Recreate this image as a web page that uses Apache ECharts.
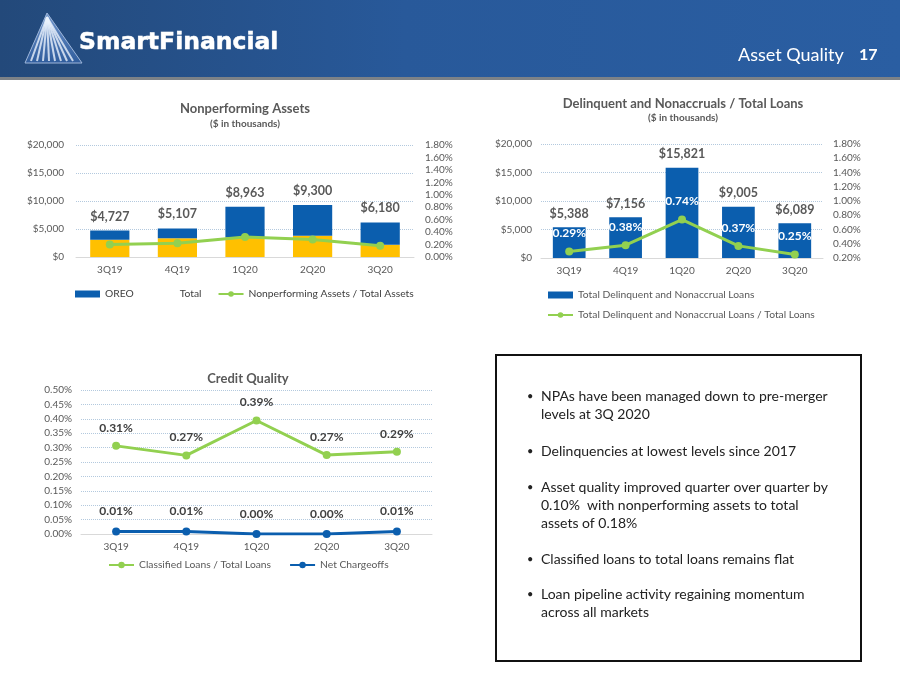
<!DOCTYPE html>
<html><head><meta charset="utf-8">
<script src="https://cdn.jsdelivr.net/npm/echarts@6.0.0/dist/echarts.min.js"></script>
<style>html,body{margin:0;padding:0;background:#fff}#c{width:900px;height:675px}</style>
</head><body><div id="c"></div><script>
const quarters = ['3Q19', '4Q19', '1Q20', '2Q20', '3Q20'];
// Nonperforming assets ($ thousands)
const npaNonaccrual = [3100, 3350, 3500, 3800, 2200];
const npaOreo = [1627, 1757, 5463, 5500, 3980];
const npaTotal = [4727, 5107, 8963, 9300, 6180];
const npaRatio = [0.20, 0.22, 0.32, 0.28, 0.18];
// Delinquent and nonaccrual loans
const delinqLoans = [5388, 7156, 15821, 9005, 6089];
const delinqRatio = [0.29, 0.38, 0.74, 0.37, 0.25];
// Credit quality (%)
const classifiedRatio = [0.306, 0.273, 0.394, 0.274, 0.286];
const netChargeoffs = [0.009, 0.009, 0.000, 0.000, 0.009];
const bullets = [
  ['NPAs have been managed down to pre-merger', 'levels at 3Q 2020'],
  ['Delinquencies at lowest levels since 2017'],
  ['Asset quality improved quarter over quarter by', '0.10%  with nonperforming assets to total', 'assets of 0.18%'],
  ['Classified loans to total loans remains flat'],
  ['Loan pipeline activity regaining momentum', 'across all markets']
];

const FONT = 'Lato';
const BLUE = '#0b5eae', GREEN = '#92d050', YELLOW = '#ffc000', TXT = '#595959', LBL = '#404040';
const dollar = v => '$' + Math.round(v).toLocaleString('en-US');
const pct = v => (+v).toFixed(2) + '%';
const grid = (c) => ({color: c || '#b3c9de', type: 'dotted', width: 1});

function xAx(gi) {
  return {type: 'category', gridIndex: gi, data: quarters,
    axisLine: {lineStyle: {color: '#d9d9d9', width: 1}}, axisTick: {show: false},
    axisLabel: {color: TXT, fontSize: 10, fontFamily: FONT, margin: 8}};
}
function yLeft(gi, max, interval, fmt, margin) {
  return {type: 'value', gridIndex: gi, min: 0, max: max, interval: interval, position: 'left',
    axisLine: {show: false}, axisTick: {show: false},
    axisLabel: {color: TXT, fontSize: 10, fontFamily: FONT, formatter: fmt, margin: margin},
    splitLine: {show: true, lineStyle: grid()}};
}
function yRight(gi, min, max, interval, margin) {
  return {type: 'value', gridIndex: gi, min: min, max: max, interval: interval, position: 'right',
    axisLine: {show: false}, axisTick: {show: false},
    axisLabel: {color: TXT, fontSize: 10, fontFamily: FONT, formatter: pct, margin: margin},
    splitLine: {show: false}};
}

const graphics = [
  {type: 'rect', shape: {x: 0, y: 0, width: 900, height: 77},
    style: {fill: new echarts.graphic.LinearGradient(0, 0, 1, 0, [
      {offset: 0, color: '#23497a'}, {offset: 0.45, color: '#28599a'}, {offset: 1, color: '#2a5ea2'}])}},
  {type: 'rect', shape: {x: 0, y: 77, width: 900, height: 3}, style: {fill: '#7d8287'}},
  {type: 'polygon', shape: {points: [[47, 13], [25, 63], [82, 63]]},
    style: {fill: new echarts.graphic.LinearGradient(0, 0, 0, 1, [
      {offset: 0, color: '#6f95cc'}, {offset: 1, color: '#2f5c9c'}]), stroke: '#9fb7da', lineWidth: 1}},
  {type: 'text', style: {text: 'SmartFinancial', x: 79, y: 43, fill: '#ffffff', stroke: '#ffffff', lineWidth: 0.5,
    fontFamily: '"DejaVu Sans", sans-serif', fontWeight: 'bold', fontSize: 23.5, verticalAlign: 'middle'}},
  {type: 'text', style: {text: 'Asset Quality', x: 738, y: 55, fill: '#ffffff',
    fontFamily: 'Lato, sans-serif', fontSize: 18, verticalAlign: 'middle'}},
  {type: 'text', style: {text: '17', x: 859, y: 55, fill: '#ffffff',
    fontFamily: 'Lato, sans-serif', fontWeight: 'bold', fontSize: 16, verticalAlign: 'middle'}},
  {type: 'rect', shape: {x: 496, y: 355, width: 365, height: 306},
    style: {fill: '#ffffff', stroke: '#111111', lineWidth: 2}}
];
[31, 37, 43, 49, 55, 61, 67, 73].forEach(bx => {
  graphics.push({type: 'line', shape: {x1: 47, y1: 17, x2: bx, y2: 61},
    style: {stroke: 'rgba(235,242,252,0.8)', lineWidth: 2}});
});
const bulletTops = [396, 451, 487, 559, 594];
bullets.forEach((lines, i) => {
  graphics.push({type: 'text', style: {text: '•', x: 527, y: bulletTops[i], fill: '#222',
    fontFamily: 'Lato, sans-serif', fontSize: 11, verticalAlign: 'middle'}});
  lines.forEach((ln, j) => {
    graphics.push({type: 'text', style: {text: ln, x: 541, y: bulletTops[i] + j * 18, fill: '#222',
      fontFamily: 'Lato, sans-serif', fontSize: 14, verticalAlign: 'middle'}});
  });
});

const option = {
  backgroundColor: '#ffffff',
  animation: false,
  textStyle: {fontFamily: FONT},
  title: [
    {text: 'Nonperforming Assets', subtext: '($ in thousands)', left: 240, top: 97, textAlign: 'center', itemGap: 4,
      textStyle: {fontSize: 13, fontWeight: 'bold', color: TXT, fontFamily: FONT},
      subtextStyle: {fontSize: 10, fontWeight: 'bold', color: TXT, fontFamily: FONT}},
    {text: 'Delinquent and Nonaccruals / Total Loans', subtext: '($ in thousands)', left: 678, top: 92, textAlign: 'center', itemGap: 3,
      textStyle: {fontSize: 13, fontWeight: 'bold', color: TXT, fontFamily: FONT},
      subtextStyle: {fontSize: 10, fontWeight: 'bold', color: TXT, fontFamily: FONT}},
    {text: 'Credit Quality', left: 243, top: 367, textAlign: 'center',
      textStyle: {fontSize: 13, fontWeight: 'bold', color: TXT, fontFamily: FONT}}
  ],
  legend: [
    {left: 75, top: 289, padding: 0, itemWidth: 25, itemHeight: 7, itemGap: 16,
      textStyle: {color: LBL, fontSize: 10.3, fontFamily: FONT},
      data: [{name: 'OREO', icon: 'rect'}, {name: 'Total', icon: 'none'}, {name: 'Nonperforming Assets / Total Assets'}]},
    {left: 547, top: 290, padding: 0, orient: 'vertical', itemWidth: 25, itemHeight: 7, itemGap: 10,
      textStyle: {color: TXT, fontSize: 10.3, fontFamily: FONT},
      data: [{name: 'Total Delinquent and Nonaccrual Loans', icon: 'rect'}, {name: 'Total Delinquent and Nonaccrual Loans / Total Loans'}]},
    {left: 108, top: 560, padding: 0, itemWidth: 25, itemHeight: 8, itemGap: 18,
      textStyle: {color: TXT, fontSize: 10.3, fontFamily: FONT},
      data: ['Classified Loans / Total Loans', 'Net Chargeoffs']}
  ],
  grid: [
    {left: 76, top: 145, width: 338, height: 112},
    {left: 541, top: 144, width: 282, height: 114},
    {left: 81, top: 390, width: 351, height: 144}
  ],
  xAxis: [xAx(0), xAx(1), xAx(2)],
  yAxis: [
    yLeft(0, 20000, 5000, dollar, 12),
    yRight(0, 0, 1.8, 0.2, 11),
    yLeft(1, 20000, 5000, dollar, 9),
    yRight(1, 0.2, 1.8, 0.2, 10),
    yLeft(2, 0.5, 0.05, pct, 9)
  ],
  series: [
    {name: 'Nonperforming Loans', type: 'bar', xAxisIndex: 0, yAxisIndex: 0, stack: 'npa', barWidth: '58%',
      data: npaNonaccrual, itemStyle: {color: YELLOW}},
    {name: 'OREO', type: 'bar', xAxisIndex: 0, yAxisIndex: 0, stack: 'npa', barWidth: '58%',
      data: npaOreo, itemStyle: {color: BLUE}},
    {name: 'Total', type: 'line', xAxisIndex: 0, yAxisIndex: 0, data: npaTotal, symbol: 'circle', symbolSize: 1,
      showSymbol: true, lineStyle: {opacity: 0}, itemStyle: {color: 'rgba(0,0,0,0)'},
      label: {show: true, position: 'top', distance: 7, formatter: p => dollar(p.value),
        color: TXT, fontSize: 12.5, fontWeight: 'bold', fontFamily: FONT}, z: 5},
    {name: 'Nonperforming Assets / Total Assets', type: 'line', xAxisIndex: 0, yAxisIndex: 1, data: npaRatio,
      symbol: 'circle', symbolSize: 8, lineStyle: {color: GREEN, width: 3}, itemStyle: {color: GREEN}, z: 4},

    {name: 'Total Delinquent and Nonaccrual Loans', type: 'bar', xAxisIndex: 1, yAxisIndex: 2, barWidth: '58%',
      data: delinqLoans, itemStyle: {color: BLUE},
      label: {show: true, position: 'top', distance: 7, formatter: p => dollar(p.value),
        color: TXT, fontSize: 12.5, fontWeight: 'bold', fontFamily: FONT}},
    {name: 'Total Delinquent and Nonaccrual Loans / Total Loans', type: 'line', xAxisIndex: 1, yAxisIndex: 3,
      data: delinqRatio, symbol: 'circle', symbolSize: 8, lineStyle: {color: GREEN, width: 3}, itemStyle: {color: GREEN},
      label: {show: true, position: 'top', distance: 8, formatter: p => pct(p.value),
        color: '#ffffff', fontSize: 12, fontWeight: 'bold', fontFamily: FONT}, z: 4},

    {name: 'Classified Loans / Total Loans', type: 'line', xAxisIndex: 2, yAxisIndex: 4, data: classifiedRatio,
      symbol: 'circle', symbolSize: 8, lineStyle: {color: GREEN, width: 3}, itemStyle: {color: GREEN},
      label: {show: true, position: 'top', distance: 8, formatter: p => pct(p.value),
        color: LBL, fontSize: 12, fontWeight: 'bold', fontFamily: FONT}},
    {name: 'Net Chargeoffs', type: 'line', xAxisIndex: 2, yAxisIndex: 4, data: netChargeoffs,
      symbol: 'circle', symbolSize: 8, lineStyle: {color: BLUE, width: 3}, itemStyle: {color: BLUE},
      label: {show: true, position: 'top', distance: 10, formatter: p => pct(p.value),
        color: LBL, fontSize: 12, fontWeight: 'bold', fontFamily: FONT}}
  ],
  graphic: graphics
};
const chart = echarts.init(document.getElementById('c'), null, {renderer: 'canvas'});
chart.setOption(option);
</script></body></html>
